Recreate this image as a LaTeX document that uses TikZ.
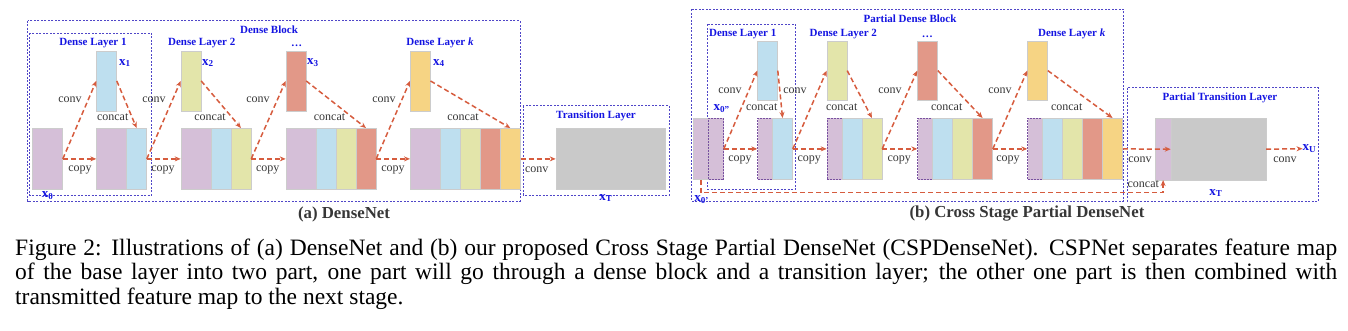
\documentclass[tikz,border=0pt]{standalone}
\usepackage{fontspec}
\setmainfont{Liberation Serif}
\usetikzlibrary{arrows.meta}

\begin{document}
\begin{tikzpicture}[x=1pt,y=-1pt,>={Stealth[length=6pt,width=5pt]}]
  \definecolor{col0}{RGB}{213,191,216}
  \definecolor{col1}{RGB}{190,223,239}
  \definecolor{col2}{RGB}{227,229,170}
  \definecolor{col3}{RGB}{226,152,136}
  \definecolor{col4}{RGB}{246,212,132}
  \definecolor{colGray}{RGB}{201,201,201}
  \definecolor{colEdge}{RGB}{120,80,160}
  \definecolor{colBox}{RGB}{80,70,200}
  \definecolor{colFlow}{RGB}{214,92,62}
  \definecolor{colTag}{RGB}{20,20,225}
  \definecolor{colTxt}{RGB}{55,55,55}
  \tikzset{
    slab/.style={draw=gray!40,line width=0.5pt,inner sep=0pt,anchor=north west,minimum height=61.3pt},
    dslab/.style={slab,draw=colEdge,densely dotted,fill=col0},
    grp/.style={draw=colBox,line width=0.7pt,dash pattern=on 2pt off 1.5pt},
    flow/.style={->,draw=colFlow,line width=1.5pt,dash pattern=on 5pt off 3pt},
    op/.style={font=\fontsize{12}{12}\selectfont,text=colTxt,inner sep=0pt},
    tag/.style={font=\fontsize{11}{11}\selectfont\bfseries,text=colTag,inner sep=0pt},
    var/.style={font=\fontsize{13}{13}\selectfont\bfseries,text=colTag,inner sep=0pt},
    sub/.style={font=\fontsize{16.8}{16.8}\selectfont\bfseries,text=colTxt},
  }
  \useasboundingbox (0,0) rectangle (1348,331);

  % (a) DenseNet
  \draw[grp] (27.7,20.7) rectangle (520,201);
  \draw[grp] (29.3,33.3) rectangle (151.7,195);
  \draw[grp] (523.3,105.7) rectangle (669,195);
  \node[slab,fill=col0,minimum width=30pt] (a0) at (32.3,128) {};
  \foreach \k/\bx in {1/96.3,2/180.7,3/285.7,4/410}{
    \node[slab,fill=col0,minimum width=30pt] (b\k0) at (\bx,128) {};
    \foreach \j in {1,...,\k}
      \node[slab,fill=col\j,minimum width=20pt] (b\k\j) at ({\bx+10+20*\j},128) {};
    \node[slab,fill=col\k,minimum width=20pt,minimum height=60pt] (x\k) at (\bx,50.7) {};
  }
  \node[slab,fill=colGray,minimum width=109.3pt] (ag) at (555.7,128) {};
  \foreach \k/\src in {1/a0,2/b11,3/b22,4/b33}{
    \draw[flow] (\src.east) -- (x\k.west);
    \draw[flow] (\src.east) -- (b\k0.west);
    \draw[flow] (x\k.east) -- (b\k\k.north);
  }
  \draw[flow] (b44.east) -- (ag.west);
  \foreach \k/\cx/\px/\tx in {1/70/80/112.7,2/154/163/210,3/258/267.7/329.5,4/384/393/463}{
    \node[op] (conva\k) at (\cx,100) {conv};
    \node[op] (copya\k) at (\px,170) {copy};
    \node[op] (cata\k) at (\tx,116.7) {concat};
  }
  \node[op] (conva5) at (536.7,170) {conv};
  \node[tag] (blka) at (269,30) {Dense Block};
  \node[tag] (dla1) at (93,43) {Dense Layer 1};
  \node[tag] (dla2) at (201.7,43) {Dense Layer 2};
  \node[tag] (dla3) at (296.7,46) {\dots};
  \node[tag] (dlak) at (440,43) {Dense Layer \textit{k}};
  \node[tag] (tla) at (596,115.7) {Transition Layer};
  \foreach \k/\vx in {1/125,2/208,3/313,4/439}
    \node[var] (va\k) at (\vx,63) {x\textsubscript{\k}};
  \node[var] (va0) at (47.7,196) {x\textsubscript{0}};
  \node[var] (vaT) at (606,198) {x\textsubscript{T}};

  % (b) Cross Stage Partial DenseNet
  \draw[grp] (691,9.3) rectangle (1123.7,201);
  \draw[grp] (707.7,24.3) rectangle (795.7,189.3);
  \draw[grp] (1127.3,87.7) rectangle (1318.3,201);
  \node[slab,fill=col0,minimum width=15pt] (c0) at (693.3,118) {};
  \node[dslab,minimum width=15pt] (c0d) at (708.3,118) {};
  \foreach \k/\bx in {1/757.3,2/826.7,3/917.3,4/1027.3}{
    \node[dslab,minimum width=15pt] (d\k0) at (\bx,118) {};
    \foreach \j in {1,...,\k}
      \node[slab,fill=col\j,minimum width=20pt] (d\k\j) at ({\bx-5+20*\j},118) {};
    \node[slab,fill=col\k,minimum width=20pt,minimum height=59.3pt] (y\k) at (\bx,40.7) {};
  }
  \node[slab,fill=col0,minimum width=15.7pt] (tp) at (1155,118.3) {};
  \node[slab,fill=colGray,minimum width=95pt] (tg) at (1170.7,118.3) {};
  \foreach \k/\src in {1/c0d,2/d11,3/d22,4/d33}{
    \draw[flow] (\src.east) -- (y\k.west);
    \draw[flow] (\src.east) -- (d\k0.west);
    \draw[flow] (y\k.east) -- (d\k\k.north);
  }
  \draw[flow] (d44.east) -- (tg.west);
  \node[var,anchor=west] (vbU) at (1302.5,148.7) {x\textsubscript{U}};
  \draw[flow] (tg.east) -- (vbU.west);
  \coordinate (low) at (0,192.7);
  \draw[flow] (c0.south) -- (c0.south |- low) -| (tp.south);
  \foreach \k/\cx/\px/\tx in {1/730/740/761.7,2/795/809.3/841.7,3/890/899.3/946.7,4/1000/1008/1066.7}{
    \node[op] (convb\k) at (\cx,90.7) {conv};
    \node[op] (copyb\k) at (\px,160) {copy};
    \node[op] (catb\k) at (\tx,106.7) {concat};
  }
  \node[op] (convb5) at (1140,160) {conv};
  \node[op] (catb5) at (1143.3,184.3) {concat};
  \node[op] (convb6) at (1285,160) {conv};
  \node[tag] (blkb) at (910,19) {Partial Dense Block};
  \node[tag] (dlb1) at (742.7,34) {Dense Layer 1};
  \node[tag] (dlb2) at (843.3,34) {Dense Layer 2};
  \node[tag] (dlb3) at (927.3,37) {\dots};
  \node[tag] (dlbk) at (1071.7,34) {Dense Layer \textit{k}};
  \node[tag] (tlb) at (1220,97.7) {Partial Transition Layer};
  \node[var] (vb0a) at (721.7,109) {x\textsubscript{0''}};
  \node[var] (vb0b) at (701.7,200) {x\textsubscript{0'}};
  \node[var] (vbT) at (1216,193) {x\textsubscript{T}};

  % captions
  \node[sub] (capa) at (344,214) {(a) DenseNet};
  \node[sub] (capb) at (1027,214) {(b) Cross Stage Partial DenseNet};
  \node[anchor=base west,text width=1322pt,align=justify,inner sep=0pt,font=\fontsize{23.5}{24.5}\selectfont] (fig) at (15,255)
    {Figure 2: Illustrations of (a) DenseNet and (b) our proposed Cross Stage Partial DenseNet (CSPDenseNet). CSPNet separates feature map\linebreak
     of the base layer into two part, one part will go through a dense block and a transition layer; the other one part is then combined with\linebreak
     transmitted feature map to the next stage.};
\end{tikzpicture}
\end{document}
